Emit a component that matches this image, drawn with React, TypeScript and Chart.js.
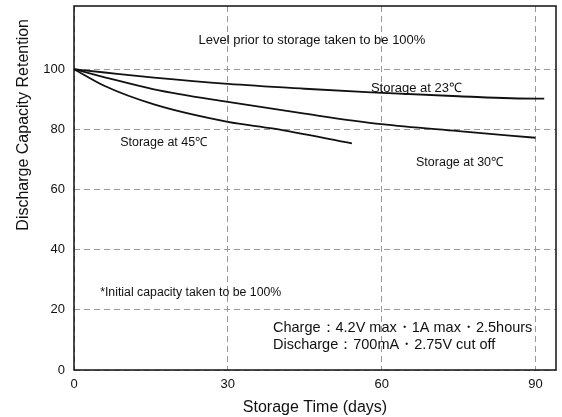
import React, { useEffect, useRef } from "react";
import { Chart, registerables } from "chart.js";

Chart.register(...registerables);

const X_TICKS = [0, 30, 60, 90];
const Y_TICKS = [0, 20, 40, 60, 80, 100];

const DAYS_23 = [0, 6, 15.6, 30, 45, 58, 75, 90, 91.7];
const VALUES_23 = [100, 98.9, 97.2, 95.1, 93.5, 92.3, 91.0, 90.2, 90.2];

const DAYS_30 = [0, 6, 15.6, 30, 45, 60, 75, 90];
const VALUES_30 = [100, 97.3, 93.3, 89.1, 85.2, 81.7, 79.4, 77.2];

const DAYS_45 = [0, 6, 15.6, 30, 39, 54.2];
const VALUES_45 = [100, 94.4, 88.3, 82.5, 80.2, 75.3];

const Y_TITLE = "Discharge Capacity Retention";

const LABELS = [
  { text: "Level prior to storage taken to be 100%", x: 46.4, y: 109.7, align: "center", size: 13 },
  { text: "Storage at 23℃", x: 57.9, y: 93.7, align: "left", size: 13 },
  { text: "Storage at 45℃", x: 9.0, y: 75.7, align: "left", size: 12.5 },
  { text: "Storage at 30℃", x: 66.7, y: 69, align: "left", size: 12.5 },
  { text: "*Initial capacity taken to be 100%", x: 5.1, y: 25.7, align: "left", size: 12.3 },
  { text: "Charge：4.2V max・1A max・2.5hours", x: 38.8, y: 14, align: "left", size: 14.5 },
  { text: "Discharge：700mA・2.75V cut off", x: 38.8, y: 8.3, align: "left", size: 14.5 },
];

const toPoints = (xs: number[], ys: number[]) => xs.map((x, i) => ({ x, y: ys[i] }));

const FONT = "'Liberation Sans', Arial, Helvetica, sans-serif";

const framePlugin = {
  id: "frameAndLabels",
  afterDraw(chart: any) {
    const { ctx, chartArea, scales } = chart;
    ctx.save();
    ctx.strokeStyle = "#111";
    ctx.lineWidth = 1.5;
    ctx.strokeRect(chartArea.left, chartArea.top, chartArea.right - chartArea.left, chartArea.bottom - chartArea.top);
    ctx.fillStyle = "#111";
    ctx.textBaseline = "middle";
    for (const l of LABELS) {
      ctx.font = `${l.size}px ${FONT}`;
      ctx.textAlign = l.align as CanvasTextAlign;
      ctx.fillText(l.text, scales.x.getPixelForValue(l.x), scales.y.getPixelForValue(l.y));
    }
    // y-axis title, placed high like the original
    ctx.translate(24, scales.y.getPixelForValue(81.5));
    ctx.rotate(-Math.PI / 2);
    ctx.textAlign = "center";
    ctx.font = `16px ${FONT}`;
    ctx.fillText(Y_TITLE, 0, 0);
    ctx.restore();
  },
};

export default function App() {
  const ref = useRef<HTMLCanvasElement | null>(null);
  useEffect(() => {
    if (!ref.current) return;
    const lineStyle = {
      borderColor: "#111",
      borderWidth: 1.8,
      pointRadius: 0,
      fill: false,
      tension: 0.4,
      cubicInterpolationMode: "monotone" as const,
    };
    const chart = new Chart(ref.current, {
      type: "line",
      data: {
        datasets: [
          { label: "23", data: toPoints(DAYS_23, VALUES_23), ...lineStyle },
          { label: "30", data: toPoints(DAYS_30, VALUES_30), ...lineStyle },
          { label: "45", data: toPoints(DAYS_45, VALUES_45), ...lineStyle },
        ],
      },
      options: {
        animation: false,
        responsive: false,
        layout: { padding: { top: 6, right: 6, left: 0, bottom: 0 } },
        plugins: { legend: { display: false }, tooltip: { enabled: false } },
        scales: {
          x: {
            type: "linear",
            min: 0,
            max: 94,
            afterBuildTicks: (s: any) => {
              s.ticks = X_TICKS.map((v) => ({ value: v }));
            },
            afterFit: (s: any) => {
              s.height = 47;
              s.paddingLeft = 0;
              s.paddingRight = 0;
            },
            grid: { color: "#999", lineWidth: 1, drawTicks: false },
            border: { display: false, dash: [6, 4] },
            ticks: { color: "#111", font: { size: 13, family: FONT }, padding: 7 },
            title: {
              display: true,
              text: "Storage Time (days)",
              color: "#111",
              font: { size: 16, family: FONT },
              padding: { top: 0, bottom: 0 },
            },
          },
          y: {
            type: "linear",
            min: 0,
            max: 121,
            afterBuildTicks: (s: any) => {
              s.ticks = Y_TICKS.map((v) => ({ value: v }));
            },
            afterFit: (s: any) => {
              s.width = 74;
              s.paddingTop = 0;
              s.paddingBottom = 0;
            },
            grid: { color: "#999", lineWidth: 1, drawTicks: false },
            border: { display: false, dash: [6, 4] },
            ticks: { color: "#111", font: { size: 13, family: FONT }, padding: 9 },
            title: { display: false },
          },
        },
      },
      plugins: [framePlugin],
    });
    return () => chart.destroy();
  }, []);
  return (
    <div style={{ position: "fixed", left: 0, top: 0, width: 562, height: 417, background: "#fff" }}>
      <canvas ref={ref} width={562} height={417} />
    </div>
  );
}
